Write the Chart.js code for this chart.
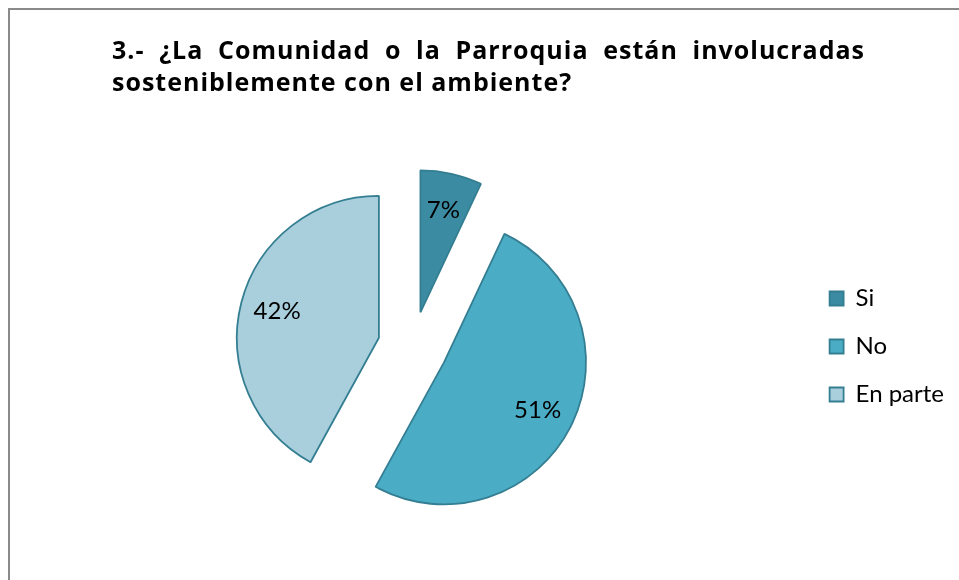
<!DOCTYPE html>
<html>
<head>
<meta charset="utf-8">
<script src="https://cdn.jsdelivr.net/npm/chart.js@4"></script>
<style>
  html, body { margin: 0; padding: 0; background: #fff; }
  body { width: 959px; height: 580px; position: relative; overflow: hidden; }
  #marco {
    position: absolute; left: 8px; top: 8px; width: 1000px; height: 1000px;
    border-left: 2px solid #8a8a8a; border-top: 2px solid #8a8a8a;
  }
  #titulo {
    position: absolute; left: 112px; top: 33px; width: 753px;
    font-family: "Open Sans", "Liberation Sans", sans-serif; font-weight: bold;
    font-size: 25px; line-height: 32px; letter-spacing: 1px; color: #000;
    text-align: justify; text-align-last: left;
  }
  #grafico { position: absolute; left: 0; top: 0; }
</style>
</head>
<body>
<div id="marco"></div>
<canvas id="grafico" width="959" height="580"></canvas>
<div id="titulo">3.- ¿La Comunidad o la Parroquia están involucradas sosteniblemente con el ambiente?</div>
<script>
// Pregunta 3 - respuestas en porcentaje
const categorias = ['Si', 'No', 'En parte'];
const porcentajes = [7, 51, 42];
const colores = ['#3b8ba2', '#4bacc6', '#a9cfdc'];
const borde = '#347e92';

const EXPLOSION = 35;   // separacion de las porciones
const RADIO = 142;
const FUENTE = 'Lato, "Liberation Sans", sans-serif';

// separa cada porcion del centro (pastel "explotado")
const explotar = {
    id: 'explotar',
    afterDatasetsUpdate(chart) {
        chart.getDatasetMeta(0).data.forEach(arc => {
            const medio = (arc.startAngle + arc.endAngle) / 2;
            arc.x += Math.cos(medio) * EXPLOSION;
            arc.y += Math.sin(medio) * EXPLOSION;
        });
    }
};

// etiquetas de porcentaje dentro de cada porcion
const etiquetas = {
    id: 'etiquetas',
    afterDatasetsDraw(chart) {
        const ctx = chart.ctx;
        ctx.save();
        ctx.font = '24px ' + FUENTE;
        ctx.fillStyle = '#000';
        ctx.textAlign = 'center';
        ctx.textBaseline = 'middle';
        chart.getDatasetMeta(0).data.forEach((arc, i) => {
            const medio = (arc.startAngle + arc.endAngle) / 2;
            const r = arc.outerRadius * 0.74;
            ctx.fillText(porcentajes[i] + '%', arc.x + Math.cos(medio) * r, arc.y + Math.sin(medio) * r);
        });
        ctx.restore();
    }
};

const ctx = document.getElementById('grafico').getContext('2d');
const grafico = new Chart(ctx, {
    type: 'pie',
    data: {
        labels: categorias,
        datasets: [{
            data: porcentajes,
            backgroundColor: colores,
            borderColor: borde,
            borderWidth: 1.8,
            radius: RADIO
        }]
    },
    options: {
        responsive: false,
        animation: false,
        layout: {
            padding: { left: 20, right: 5, top: 120, bottom: 7 }
        },
        plugins: {
            legend: {
                position: 'right',
                labels: {
                    boxWidth: 14,
                    boxHeight: 14,
                    padding: 24,
                    color: '#000',
                    font: { family: FUENTE, size: 24 }
                }
            },
            tooltip: { enabled: false }
        }
    },
    plugins: [explotar, etiquetas]
});
</script>
</body>
</html>
